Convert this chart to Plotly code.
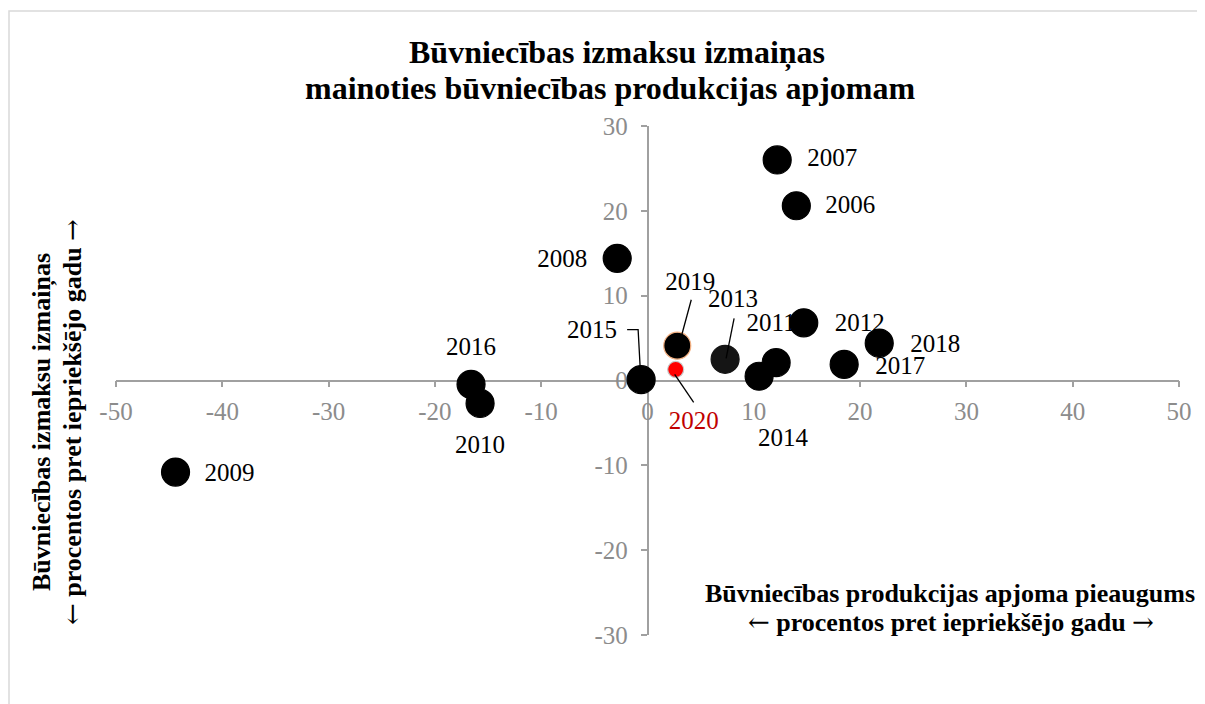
import plotly.graph_objects as go

# ---------------- data ----------------
years = ["2006", "2007", "2008", "2009", "2010", "2011", "2012", "2013",
         "2014", "2015", "2016", "2017", "2018", "2019", "2020"]
volume_growth = [14.0, 12.2, -2.85, -44.4, -15.75, 12.1, 14.7, 7.3,
                 10.5, -0.6, -16.6, 18.5, 21.8, 2.8, 2.65]
cost_change = [20.6, 26.0, 14.4, -10.8, -2.7, 2.1, 6.8, 2.5,
               0.5, 0.1, -0.45, 1.9, 4.4, 4.1, 1.3]
x_ticks = [-50, -40, -30, -20, -10, 0, 10, 20, 30, 40, 50]
y_ticks = [-30, -20, -10, 0, 10, 20, 30]

# ---------------- layout constants ----------------
OFF = 8                      # page body margin
W, H = 1205 - OFF, 704 - OFF
ML, MR, MT, MB = 116 - OFF, 26, 126 - OFF, 69
XR = (-50, 50)
YR = (-30, 30)
PW, PH = W - ML - MR, H - MT - MB
dx_unit = (XR[1] - XR[0]) / PW
dy_unit = (YR[1] - YR[0]) / PH

SERIF = "Liberation Serif, Times New Roman, serif"
ARROW_FONT = "DejaVu Serif"


def paper_x(sx):
    return (sx - OFF - ML) / PW


def paper_y(sy):
    return (H - MB - (sy - OFF)) / PH


# label offsets in pixels (screen: +x right, +y down)
label_off = {
    "2006": (54, 1), "2007": (55, 0), "2008": (-55, 2), "2009": (54, 3),
    "2010": (0, 43), "2011": (-5, -38), "2012": (56, 2), "2013": (8, -59),
    "2014": (24, 63), "2015": (-49, -48), "2016": (0, -36), "2017": (56, 3),
    "2018": (56, 3), "2019": (13, -62), "2020": (18, 53),
}
leaders = {
    "2015": [(-14, -50), (-3, -50), (-1, -13)],
    "2019": [(14, -46), (4, -9)],
    "2013": [(9, -41), (1, -1)],
    "2020": [(-1, 5), (18, 33)],
}


def px(x, y, off):
    return x + off[0] * dx_unit, y - off[1] * dy_unit


lab_x, lab_y, lab_col = [], [], []
for yr, x, y in zip(years, volume_growth, cost_change):
    lx, ly = px(x, y, label_off[yr])
    lab_x.append(lx)
    lab_y.append(ly)
    lab_col.append("#c00000" if yr == "2020" else "black")

marker_color, marker_size, marker_line = [], [], []
for yr in years:
    if yr == "2020":
        marker_color.append("#ff0000"); marker_size.append(16); marker_line.append("#c8c8c8")
    elif yr == "2019":
        marker_color.append("black"); marker_size.append(27); marker_line.append("#f4b183")
    elif yr == "2013":
        marker_color.append("#151515"); marker_size.append(28); marker_line.append("#151515")
    else:
        marker_color.append("black"); marker_size.append(28); marker_line.append("black")

fig = go.Figure()

# labels first (markers drawn over them)
fig.add_trace(go.Scatter(
    x=lab_x, y=lab_y, mode="text", text=years,
    textposition="middle center",
    textfont=dict(family=SERIF, size=25, color=lab_col),
    hoverinfo="skip", showlegend=False,
))

fig.add_trace(go.Scatter(
    x=volume_growth, y=cost_change, mode="markers",
    marker=dict(size=marker_size, color=marker_color, opacity=1,
                line=dict(color=marker_line, width=1.2)),
    text=years, showlegend=False,
))

# leader lines
lx_all, ly_all = [], []
for yr, x, y in zip(years, volume_growth, cost_change):
    if yr in leaders:
        for off in leaders[yr]:
            a, b = px(x, y, off)
            lx_all.append(a); ly_all.append(b)
        lx_all.append(None); ly_all.append(None)
fig.add_trace(go.Scatter(
    x=lx_all, y=ly_all, mode="lines",
    line=dict(color="black", width=1.3),
    hoverinfo="skip", showlegend=False,
))

axis_common = dict(
    showgrid=False, zeroline=False, showline=True,
    linecolor="#a0a0a0", linewidth=1.5,
    ticks="outside", ticklen=6, tickcolor="#a0a0a0", tickwidth=1.5,
    tickfont=dict(family=SERIF, size=25, color="#8c8c8c"),
    anchor="free", position=0.5, layer="below traces",
)

fig.update_layout(
    width=W, height=H, autosize=False,
    margin=dict(l=ML, r=MR, t=MT, b=MB),
    paper_bgcolor="white", plot_bgcolor="rgba(0,0,0,0)",
    xaxis=dict(range=list(XR), tickvals=x_ticks, ticktext=[str(v) for v in x_ticks],
               ticklabelstandoff=3, **axis_common),
    yaxis=dict(range=list(YR), tickvals=y_ticks, ticktext=[str(v) for v in y_ticks],
               ticklabelstandoff=8, **axis_common),
    showlegend=False,
)

# chart border
fig.add_shape(type="rect", xref="paper", yref="paper",
              x0=paper_x(9), x1=1.2, y0=-0.3, y1=paper_y(11),
              line=dict(color="#d9d9d9", width=1.5), layer="below")


def arrow(ch):
    return ('<span style="font-family:\'%s\';font-weight:normal">%s</span>'
            % (ARROW_FONT, ch))


def text_ann(sx, sy, txt, size, angle=0, xanchor="center", yanchor="middle"):
    fig.add_annotation(
        xref="paper", yref="paper", x=paper_x(sx), y=paper_y(sy),
        text="<b>" + txt + "</b>", showarrow=False, textangle=angle,
        font=dict(family=SERIF, size=size, color="black"),
        xanchor=xanchor, yanchor=yanchor,
    )


line2 = arrow("←") + " procentos pret iepriekšējo gadu " + arrow("→")

# title
text_ann(617, 52, "Būvniecības izmaksu izmaiņas", 32)
text_ann(610, 88, "mainoties būvniecības produkcijas apjomam", 32)

# y-axis title (rotated)
text_ann(42, 422, "Būvniecības izmaksu izmaiņas", 26, angle=-90)
text_ann(72, 422, line2, 26, angle=-90)

# x-axis title
text_ann(950, 593, "Būvniecības produkcijas apjoma pieaugums", 26)
text_ann(951, 622, line2, 26)

fig.write_html("out.html")
